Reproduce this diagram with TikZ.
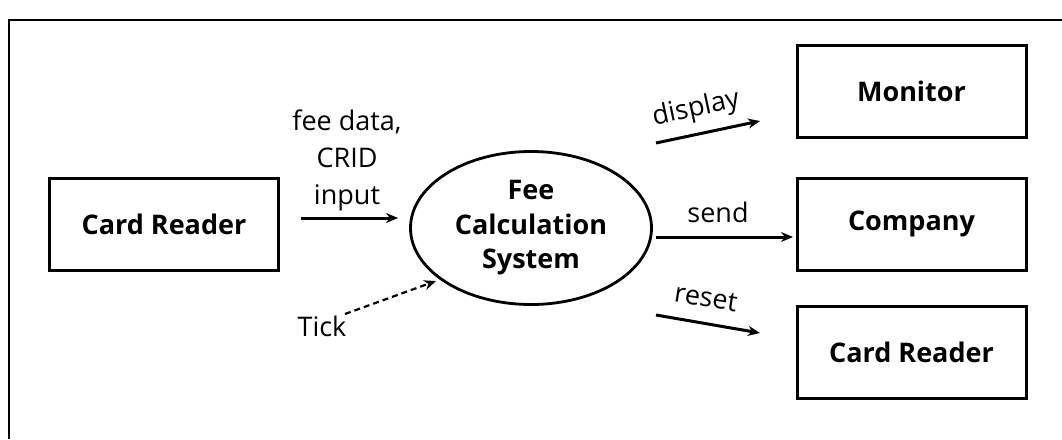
\documentclass[tikz,border=0pt]{standalone}
\usepackage{fontspec}
\setmainfont{Open Sans}
\usetikzlibrary{arrows.meta,shapes.geometric}
\begin{document}
\begin{tikzpicture}[x=1pt,y=-1pt,
  ent/.style={draw,line width=3pt,minimum width=229pt,minimum height=92pt,inner sep=0pt,font=\fontsize{27}{30}\selectfont\bfseries},
  proc/.style={draw,ellipse,line width=2.8pt,minimum width=241pt,minimum height=153pt,inner sep=0pt,align=center,font=\fontsize{27}{34.5}\selectfont\bfseries},
  flow/.style={line width=3pt,-{Stealth[length=12pt,width=10pt]}},
  lbl/.style={inner sep=0pt,align=center,font=\fontsize{27}{37}\selectfont}]
\useasboundingbox (0,0) rectangle (1062,439);
\draw[line width=1.8pt] (9,439) -- (9,20) -- (1062,20);
\node[ent] (cr1) at (164,224) {Card Reader};
\node[proc] (fcs) at (531,228) {Fee\\Calculation\\System};
\node[ent] (mon) at (911.5,91) {Monitor};
\node[ent] (com) at (911.5,224) {Company};
\node[ent] (cr2) at (911.5,352) {Card Reader};
\coordinate (inS) at (301,218);
\coordinate (inE) at (398,218);
\draw[flow] (inS) -- (inE);
\node[lbl] (inL) at (347,160) {fee data,\\CRID\\input};
\node[lbl] (tick) at (322,326) {Tick};
\coordinate (tkS) at (345,314);
\coordinate (tkE) at (436,281);
\draw[flow,dash pattern=on 6pt off 4pt,line width=2.2pt] (tkS) -- (tkE);
\coordinate (dS) at (656,143);
\coordinate (dE) at (760,121);
\draw[flow] (dS) -- (dE);
\node[lbl,rotate=12] (dL) at (696,109) {display};
\coordinate (sS) at (656,237);
\coordinate (sE) at (793,237);
\draw[flow] (sS) -- (sE);
\node[lbl] (sL) at (718,212) {send};
\coordinate (rS) at (656,315);
\coordinate (rE) at (760,333);
\draw[flow] (rS) -- (rE);
\node[lbl,rotate=-9] (rL) at (706,298) {reset};
\end{tikzpicture}
\end{document}
